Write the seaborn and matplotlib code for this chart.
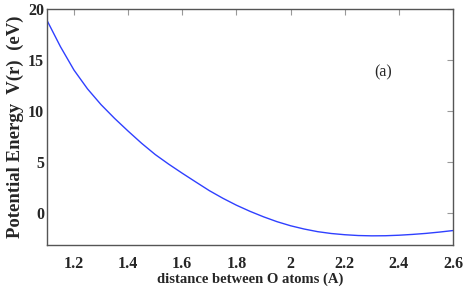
import pandas as pd
import matplotlib.pyplot as plt
import seaborn as sns

# values
distance = [1.10, 1.15, 1.20, 1.25, 1.30, 1.35, 1.40, 1.45, 1.50, 1.55, 1.60,
            1.65, 1.70, 1.75, 1.80, 1.85, 1.90, 1.95, 2.00, 2.05, 2.10, 2.15,
            2.20, 2.25, 2.30, 2.35, 2.40, 2.45, 2.50, 2.55, 2.60]
energy = [18.9, 16.3, 14.0, 12.15, 10.6, 9.25, 8.0, 6.8, 5.7, 4.75, 3.86,
          3.0, 2.15, 1.4, 0.72, 0.12, -0.42, -0.9, -1.3, -1.62, -1.88, -2.06,
          -2.18, -2.26, -2.29, -2.28, -2.23, -2.15, -2.05, -1.92, -1.77]
x_ticks = [1.2, 1.4, 1.6, 1.8, 2.0, 2.2, 2.4, 2.6]
x_tick_labels = ['1.2', '1.4', '1.6', '1.8', '2', '2.2', '2.4', '2.6']
y_ticks = [0, 5, 10, 15, 20]

sns.set_theme(style="white")
plt.rcParams['font.family'] = ['Liberation Serif', 'DejaVu Serif']
plt.rcParams['font.weight'] = 'bold'

data = pd.DataFrame({'r': distance, 'V': energy})

fig = plt.figure(figsize=(4.69, 3.0), dpi=100)
ax = fig.add_axes([0.1, 0.183, 0.866, 0.787])
sns.lineplot(x='r', y='V', data=data, color='#2f40ff', linewidth=1.0, ax=ax)

ax.set_xlim(1.1, 2.6)
ax.set_ylim(-3.2, 20)
ax.set_xticks(x_ticks)
ax.set_xticklabels(x_tick_labels)
ax.set_yticks(y_ticks)
ax.tick_params(direction='in', length=4, width=0.8, color='#999999',
               top=True, right=True, labelsize=11.5, pad=8)
ax.tick_params(axis='y', pad=2)
for lbl in ax.get_xticklabels() + ax.get_yticklabels():
    lbl.set_fontweight('bold')
for s in ax.spines.values():
    s.set_color('#555555')
    s.set_linewidth(1.0)

ax.set_xlabel('distance between O atoms (A)', fontsize=10.5, fontweight='bold', labelpad=0)
ax.set_ylabel('Potential Energy  V(r)  (eV)', fontsize=13.5, fontweight='bold', labelpad=3)
ax.text(0.828, 0.733, '(a)', transform=ax.transAxes, fontsize=11.5,
        fontweight='normal', ha='center', va='center')

fig.savefig('out.png', dpi=100)
